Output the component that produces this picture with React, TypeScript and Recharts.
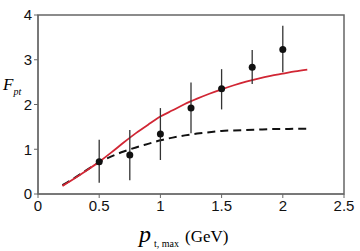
import {
    ComposedChart,
    Line,
    Scatter,
    ErrorBar,
    XAxis,
    YAxis,
    ReferenceArea,
} from "recharts";

// curves
const curveX = [0.2, 0.3, 0.4, 0.5, 0.6, 0.7, 0.8, 0.9, 1.0, 1.1, 1.2, 1.3, 1.4, 1.5, 1.6, 1.7, 1.8, 1.9, 2.0, 2.1, 2.2];
const redCurve = [0.18, 0.35, 0.53, 0.72, 0.93, 1.15, 1.36, 1.55, 1.73, 1.87, 2.01, 2.13, 2.24, 2.34, 2.43, 2.51, 2.58, 2.64, 2.69, 2.74, 2.78];
const dashCurve = [0.2, 0.36, 0.54, 0.71, 0.84, 0.95, 1.04, 1.12, 1.2, 1.26, 1.31, 1.35, 1.38, 1.41, 1.42, 1.43, 1.44, 1.45, 1.45, 1.46, 1.46];

// measured points
const pointX = [0.5, 0.75, 1.0, 1.25, 1.5, 1.75, 2.0];
const pointY = [0.72, 0.87, 1.34, 1.92, 2.35, 2.83, 3.23];
const errLow = [0.47, 0.56, 0.58, 0.56, 0.46, 0.37, 0.51];
const errHigh = [0.49, 0.56, 0.58, 0.57, 0.44, 0.39, 0.53];

const xTicks = [0, 0.5, 1, 1.5, 2, 2.5];
const yTicks = [0, 1, 2, 3, 4];

const curveData = curveX.map((x, i) => ({ x, red: redCurve[i], dash: dashCurve[i] }));
const pointData = pointX.map((x, i) => ({ x, y: pointY[i], err: [errLow[i], errHigh[i]] }));

const tickStyle = { fontFamily: "Arial, 'Liberation Sans', sans-serif", fontSize: 15, fill: "#111" };
const serif = "'Times New Roman', 'Liberation Serif', serif";

export default function App() {
    return (
        <div style={{ position: "absolute", left: 0, top: 0, width: 360, height: 251, background: "#fff" }}>
            <ComposedChart width={360} height={251} margin={{ top: 15, right: 16, left: 0, bottom: 0 }}>
                <XAxis
                    dataKey="x"
                    type="number"
                    domain={[0, 2.5]}
                    ticks={xTicks}
                    allowDataOverflow
                    height={57}
                    tick={tickStyle}
                    tickLine={{ stroke: "#666" }}
                    tickSize={4}
                    stroke="#666"
                    tickFormatter={(v) => String(v)}
                />
                <YAxis
                    type="number"
                    domain={[0, 4]}
                    ticks={yTicks}
                    width={38}
                    tick={tickStyle}
                    tickLine={{ stroke: "#666" }}
                    tickSize={4}
                    stroke="#666"
                />
                <ReferenceArea x1={0} x2={2.5} y1={0} y2={4} fill="none" stroke="#666" strokeWidth={1.5} />
                <Line
                    data={curveData}
                    dataKey="dash"
                    type="monotone"
                    stroke="#111"
                    strokeWidth={2}
                    strokeDasharray="8 5"
                    dot={false}
                    isAnimationActive={false}
                />
                <Line
                    data={curveData}
                    dataKey="red"
                    type="monotone"
                    stroke="#d12634"
                    strokeWidth={1.8}
                    dot={false}
                    isAnimationActive={false}
                />
                <Scatter
                    data={pointData}
                    dataKey="y"
                    fill="#111"
                    isAnimationActive={false}
                    shape={(p: any) => <circle cx={p.cx} cy={p.cy} r={3.5} fill="#111" />}
                >
                    <ErrorBar dataKey="err" direction="y" width={0} stroke="#333" strokeWidth={1.3} />
                </Scatter>
            </ComposedChart>
            <div style={{ position: "absolute", left: 3, top: 76, fontFamily: serif, fontStyle: "italic", fontSize: 17, lineHeight: 1, whiteSpace: "nowrap" }}>
                F
                <span style={{ fontSize: 10, position: "relative", top: 5, left: 0 }}>pt</span>
            </div>
            <div style={{ position: "absolute", left: 139, top: 222, fontFamily: serif, lineHeight: 1, whiteSpace: "nowrap" }}>
                <span style={{ fontStyle: "italic", fontSize: 24 }}>p</span>
                <span style={{ fontSize: 10, position: "relative", top: 5, marginLeft: 3 }}>t, max</span>
                <span style={{ fontSize: 17, marginLeft: 6 }}>(GeV)</span>
            </div>
        </div>
    );
}
